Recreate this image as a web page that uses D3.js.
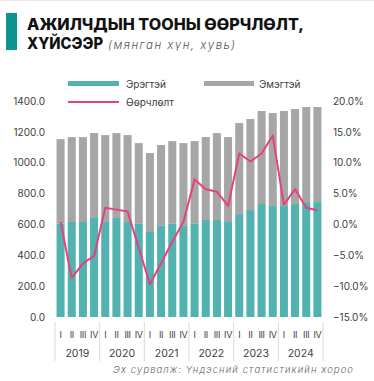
<!DOCTYPE html>
<html>
<head>
<meta charset="utf-8">
<script src="https://cdn.jsdelivr.net/npm/d3@7"></script>
<style>
  html, body { margin: 0; padding: 0; background: #ffffff; }
  svg { display: block; font-family: "Inter", "Open Sans", sans-serif; }
</style>
</head>
<body>
<svg id="chart" width="374" height="381"></svg>
<script>
// Quarterly employment, thousand people, and year-on-year change, %
const years = ["2019", "2020", "2021", "2022", "2023", "2024"];
const quarters = ["I", "II", "III", "IV"];
const male = [605, 616, 616, 642, 616, 642, 616, 605, 551, 592, 605, 592,
              605, 629, 629, 616, 667, 693, 732, 719, 719, 732, 745, 745];
const total = [1153, 1166, 1166, 1192, 1179, 1192, 1179, 1127, 1063, 1115, 1140, 1127,
               1140, 1166, 1192, 1166, 1257, 1283, 1335, 1322, 1335, 1348, 1361, 1361];
const change = [0.4, -8.7, -6.3, -5.1, 2.7, 2.4, 2.1, -3.8, -9.7, -6.3, -2.8, 0.4,
                7.3, 5.7, 5.3, 3.0, 11.5, 10.2, 11.5, 14.4, 3.2, 5.7, 2.7, 2.3];
const leftTicks = [0, 200, 400, 600, 800, 1000, 1200, 1400];
const rightTicks = [-15, -10, -5, 0, 5, 10, 15, 20];

const colMale = "#52b2b0";
const colFemale = "#a6a6a6";
const colLine = "#e8407c";
const colText = "#404040";

const svg = d3.select("#chart");

// thin border line at the very top
svg.append("line").attr("x1", 0).attr("x2", 374).attr("y1", 0.5).attr("y2", 0.5)
  .attr("stroke", "#e8e8e8").attr("stroke-width", 1);

// Title block
svg.append("rect").attr("x", 6).attr("y", 13).attr("width", 11).attr("height", 37).attr("fill", "#0e9490");
svg.append("text").attr("x", 27).attr("y", 29.5).attr("fill", "#111").attr("font-weight", 800)
  .attr("font-size", 15.5).attr("textLength", 277).attr("lengthAdjust", "spacingAndGlyphs")
  .text("АЖИЛЧДЫН ТООНЫ ӨӨРЧЛӨЛТ,");
svg.append("text").attr("x", 27).attr("y", 48.5).attr("fill", "#111").attr("font-weight", 800)
  .attr("font-size", 15.5).attr("textLength", 76).attr("lengthAdjust", "spacingAndGlyphs")
  .text("ХҮЙСЭЭР");
svg.append("text").attr("x", 108).attr("y", 48.5).attr("font-size", 11.5).attr("font-style", "italic")
  .attr("font-weight", 300).attr("fill", "#555").attr("textLength", 127).attr("lengthAdjust", "spacing")
  .text("(мянган хүн, хувь)");

// Scales
const idx = d3.range(total.length);
const x = d3.scaleBand().domain(idx).range([55, 323]).paddingInner(0.28).paddingOuter(0.14);
const yL = d3.scaleLinear().domain([0, 1400]).range([317, 101]);
const yR = d3.scaleLinear().domain([-15, 20]).range([317, 101]);

// Left axis
const axL = svg.append("g").attr("transform", "translate(45,0)")
  .call(d3.axisLeft(yL).tickValues(leftTicks).tickSize(0).tickPadding(0).tickFormat(d3.format(".1f")));
axL.select(".domain").remove();
axL.selectAll("text").attr("font-size", 10).attr("fill", colText).attr("font-family", "Inter, sans-serif");

// Right axis
const axR = svg.append("g").attr("transform", "translate(333,0)")
  .call(d3.axisRight(yR).tickValues(rightTicks).tickSize(0).tickPadding(0)
    .tickFormat(d => d3.format(".1f")(d) + "%"));
axR.select(".domain").remove();
axR.selectAll("text").attr("font-size", 10).attr("fill", colText).attr("font-family", "Inter, sans-serif");

// Stacked bars: male at bottom, female on top
svg.append("g").selectAll("rect").data(idx).join("rect")
  .attr("x", i => x(i)).attr("width", x.bandwidth())
  .attr("y", i => yL(total[i])).attr("height", i => yL(male[i]) - yL(total[i]))
  .attr("fill", colFemale);
svg.append("g").selectAll("rect").data(idx).join("rect")
  .attr("x", i => x(i)).attr("width", x.bandwidth())
  .attr("y", i => yL(male[i])).attr("height", i => yL(0) - yL(male[i]))
  .attr("fill", colMale);

// Change line on right axis
const line = d3.line().x(i => x(i) + x.bandwidth() / 2).y(i => yR(change[i]));
svg.append("path").datum(idx).attr("d", line)
  .attr("fill", "none").attr("stroke", colLine).attr("stroke-width", 2).attr("stroke-linejoin", "round");

// Category axis: quarters and years
const xa = svg.append("g");
const step = x.step();
const yearW = step * 4;
years.forEach((yr, k) => {
  const x0 = 55 + k * yearW;
  xa.append("text").attr("x", x0 + yearW / 2).attr("y", 357).attr("text-anchor", "middle")
    .attr("font-size", 10.5).attr("fill", colText).text(yr);
});
d3.range(years.length + 1).forEach(k => {
  const xv = 55 + k * yearW;
  xa.append("line").attr("x1", xv).attr("x2", xv).attr("y1", 322).attr("y2", 361)
    .attr("stroke", "#d9d9d9").attr("stroke-width", 1);
});
xa.selectAll("text.q").data(idx).join("text").attr("class", "q")
  .attr("x", i => x(i) + x.bandwidth() / 2).attr("y", 338).attr("text-anchor", "middle")
  .attr("font-size", 9).attr("fill", colText).attr("letter-spacing", -0.3)
  .text(i => quarters[i % 4]);

// Legend
const lg = svg.append("g").attr("font-size", 10).attr("fill", colText);
lg.append("rect").attr("x", 68).attr("y", 81).attr("width", 51).attr("height", 5).attr("fill", colMale);
lg.append("text").attr("x", 126).attr("y", 87.5).text("Эрэгтэй");
lg.append("rect").attr("x", 204).attr("y", 81).attr("width", 50).attr("height", 5).attr("fill", colFemale);
lg.append("text").attr("x", 259).attr("y", 87.5).text("Эмэгтэй");
lg.append("line").attr("x1", 68).attr("x2", 119).attr("y1", 102).attr("y2", 102)
  .attr("stroke", colLine).attr("stroke-width", 2);
lg.append("text").attr("x", 126).attr("y", 105.5).text("Өөрчлөлт");

// Source note
svg.append("text").attr("x", 113).attr("y", 373)
  .attr("font-size", 9.5).attr("font-style", "italic").attr("font-weight", 300).attr("fill", "#666")
  .attr("textLength", 240).attr("lengthAdjust", "spacing")
  .text("Эх сурвалж: Үндэсний статистикийн хороо");
</script>
</body>
</html>
